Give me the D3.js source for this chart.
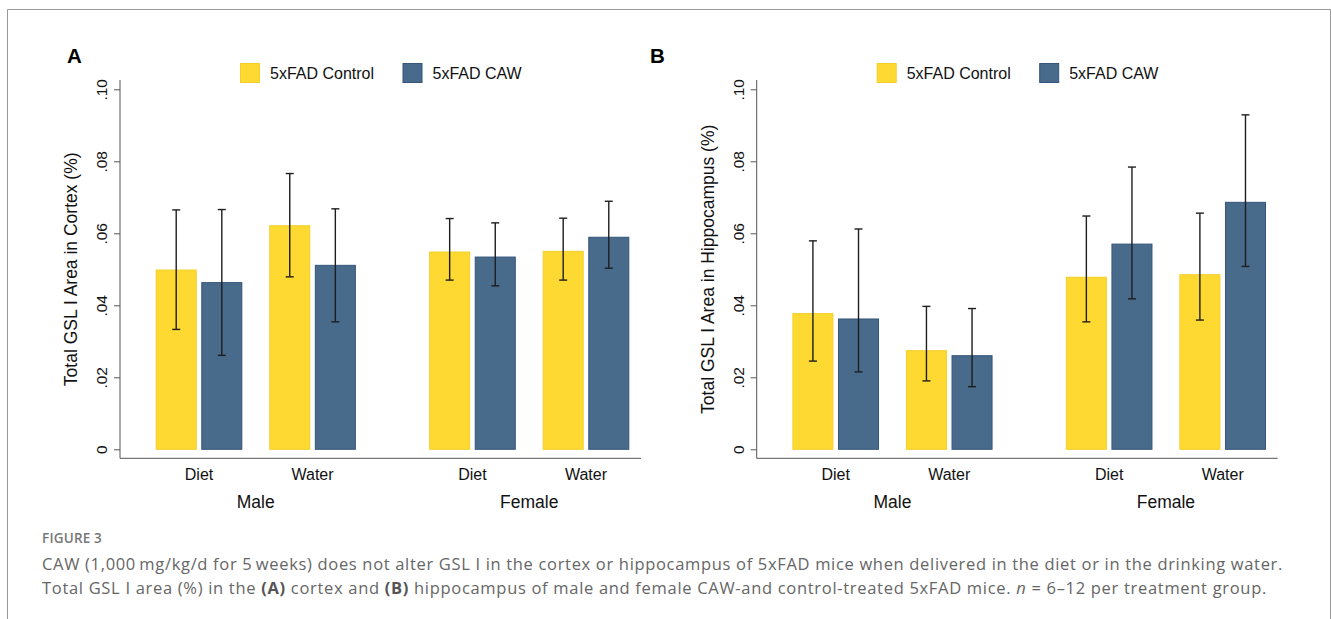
<!DOCTYPE html>
<html>
<head>
<meta charset="utf-8">
<script src="https://cdn.jsdelivr.net/npm/d3@7"></script>
<style>
  body { margin: 0; background: #fff; }
  svg text { font-family: "Liberation Sans", Arial, sans-serif; }
</style>
</head>
<body>
<div id="chart"></div>
<script>
// categories
const sexes = ["Male", "Female"];
const routes = ["Diet", "Water"];
const groups = ["5xFAD Control", "5xFAD CAW"];
const yTicks = [0, 0.02, 0.04, 0.06, 0.08, 0.10];

// values, ordered Male-Diet, Male-Water, Female-Diet, Female-Water, each Control then CAW
const cortexMean = [0.0498, 0.0463, 0.0621, 0.0511, 0.0548, 0.0534, 0.0550, 0.0589];
const cortexLow  = [0.0333, 0.0261, 0.0479, 0.0354, 0.0470, 0.0454, 0.0470, 0.0503];
const cortexHigh = [0.0665, 0.0666, 0.0766, 0.0668, 0.0641, 0.0629, 0.0642, 0.0689];
const hippoMean  = [0.0377, 0.0362, 0.0274, 0.0260, 0.0478, 0.0570, 0.0485, 0.0686];
const hippoLow   = [0.0245, 0.0215, 0.0190, 0.0174, 0.0354, 0.0418, 0.0359, 0.0508];
const hippoHigh  = [0.0579, 0.0612, 0.0397, 0.0391, 0.0648, 0.0784, 0.0656, 0.0929];

const colors = { "5xFAD Control": "#fdd931", "5xFAD CAW": "#486a8b" };
const strokes = { "5xFAD Control": "#f3cf2a", "5xFAD CAW": "#35557a" };

const width = 1331, height = 619;
const svg = d3.select("#chart").append("svg")
  .attr("width", width)
  .attr("height", height);

// frame round the figure
svg.append("path")
  .attr("d", `M7.5,${height} V9.5 H1330.5 V${height}`)
  .attr("fill", "none")
  .attr("stroke", "#9a9a9a")
  .attr("stroke-width", 1);

// build rows for one panel
function makeRows(mean, low, high) {
  const rows = [];
  let i = 0;
  sexes.forEach(s => routes.forEach(r => groups.forEach(g => {
    rows.push({ sex: s, route: r, group: g, mean: mean[i], low: low[i], high: high[i] });
    i++;
  })));
  return rows;
}

const y = d3.scaleLinear().domain([0, 0.1]).range([449.3, 89.3]);

function drawPanel(left, letterX, letter, title, rows) {
  const right = left + 521;
  const g = svg.append("g");

  // scales: sex -> route -> group
  const xSex = d3.scaleBand().domain(sexes).range([left + 35.7, right - 11.7]).paddingInner(0.268);
  const xRoute = d3.scaleBand().domain(routes).range([0, xSex.bandwidth()]).paddingInner(0.237);
  const xGroup = d3.scaleBand().domain(groups).range([0, xRoute.bandwidth()]).paddingInner(0.1);
  const xOf = d => xSex(d.sex) + xRoute(d.route) + xGroup(d.group);

  // panel letter
  g.append("text")
    .attr("x", letterX)
    .attr("y", 63)
    .style("font-size", "20.5px")
    .style("font-weight", "bold")
    .text(letter);

  // legend
  const leg = g.selectAll(".leg").data(groups).enter().append("g")
    .attr("transform", (d, i) => `translate(${left + 120 + i * 162.5},63)`);
  leg.append("rect")
    .attr("x", 0.5).attr("y", 0.5)
    .attr("width", 19).attr("height", 19)
    .attr("fill", d => colors[d])
    .attr("stroke", d => strokes[d]);
  leg.append("text")
    .attr("x", 30).attr("y", 16)
    .style("font-size", "16px")
    .attr("fill", "#111")
    .text(d => d);

  // y axis
  const yAxis = g.append("g")
    .attr("transform", `translate(${left},0)`)
    .call(d3.axisLeft(y).tickValues(yTicks).tickSize(6).tickSizeOuter(0)
      .tickFormat(d => d === 0 ? "0" : d3.format(".2f")(d).replace(/^0/, "")));
  yAxis.select(".domain").remove();
  yAxis.selectAll(".tick line").attr("stroke", "#555");
  yAxis.selectAll(".tick text")
    .attr("x", null).attr("dy", null)
    .attr("transform", "translate(-13,0) rotate(-90)")
    .attr("text-anchor", "middle")
    .attr("fill", "#111")
    .style("font-size", "15.5px");
  g.append("line")
    .attr("x1", left).attr("x2", left)
    .attr("y1", 80).attr("y2", 458.3)
    .attr("stroke", "#555");

  // x axis line
  g.append("line")
    .attr("x1", left).attr("x2", right)
    .attr("y1", 458.3).attr("y2", 458.3)
    .attr("stroke", "#555");

  // y title
  g.append("text")
    .attr("transform", `translate(${left - 43},${(y(0) + y(0.1)) / 2}) rotate(-90)`)
    .attr("text-anchor", "middle")
    .style("font-size", "17.5px")
    .attr("fill", "#111")
    .text(title);

  // bars
  g.selectAll(".bar").data(rows).enter().append("rect")
    .attr("x", d => xOf(d) + 0.5)
    .attr("y", d => y(d.mean))
    .attr("width", xGroup.bandwidth() - 1)
    .attr("height", d => y(0) - y(d.mean))
    .attr("fill", d => colors[d.group])
    .attr("stroke", d => strokes[d.group])
    .attr("stroke-width", 1);

  // error bars
  const eb = g.selectAll(".err").data(rows).enter().append("g")
    .attr("stroke", "#1e1e1e")
    .attr("stroke-width", 1.4);
  eb.append("line")
    .attr("x1", d => xOf(d) + xGroup.bandwidth() / 2)
    .attr("x2", d => xOf(d) + xGroup.bandwidth() / 2)
    .attr("y1", d => y(d.low)).attr("y2", d => y(d.high));
  ["low", "high"].forEach(k => {
    eb.append("line")
      .attr("x1", d => xOf(d) + xGroup.bandwidth() / 2 - 4)
      .attr("x2", d => xOf(d) + xGroup.bandwidth() / 2 + 4)
      .attr("y1", d => y(d[k])).attr("y2", d => y(d[k]));
  });

  // route labels
  sexes.forEach(s => {
    g.selectAll(null).data(routes).enter().append("text")
      .attr("x", r => xSex(s) + xRoute(r) + xRoute.bandwidth() / 2)
      .attr("y", 480)
      .attr("text-anchor", "middle")
      .style("font-size", "16px")
      .attr("fill", "#111")
      .text(r => r);
  });
  // sex labels
  g.selectAll(".sex").data(sexes).enter().append("text")
    .attr("x", s => xSex(s) + xSex.bandwidth() / 2)
    .attr("y", 508)
    .attr("text-anchor", "middle")
    .style("font-size", "17.5px")
    .attr("fill", "#111")
    .text(s => s);
}

drawPanel(120, 67, "A", "Total GSL I Area in Cortex (%)", makeRows(cortexMean, cortexLow, cortexHigh));
drawPanel(756.7, 650, "B", "Total GSL I Area in Hippocampus (%)", makeRows(hippoMean, hippoLow, hippoHigh));

// caption
const capFont = "'Open Sans', sans-serif";
// stretch a caption line to the width it has in the figure
function fitWidth(sel, target) {
  const node = sel.node();
  const n = node.getNumberOfChars();
  const len = node.getComputedTextLength();
  sel.style("letter-spacing", ((target - len) / n) + "px");
}
const fig = svg.append("text")
  .attr("x", 42).attr("y", 543)
  .style("font-family", capFont)
  .style("font-size", "13.5px")
  .style("font-weight", "600")
  .attr("fill", "#777")
  .text("FIGURE 3");
fitWidth(fig, 60);
const line1 = svg.append("text")
  .attr("x", 42).attr("y", 570)
  .style("font-family", capFont)
  .style("font-size", "16.5px")
  .attr("fill", "#666")
  .text("CAW (1,000\u2009mg/kg/d for 5\u2009weeks) does not alter GSL I in the cortex or hippocampus of 5xFAD mice when delivered in the diet or in the drinking water.");
fitWidth(line1, 1241);
const line2 = svg.append("text")
  .attr("x", 42).attr("y", 593.5)
  .style("font-family", capFont)
  .style("font-size", "16.5px")
  .attr("fill", "#666");
line2.append("tspan").text("Total GSL I area (%) in the ");
line2.append("tspan").style("font-weight", "bold").attr("fill", "#555").text("(A)");
line2.append("tspan").text(" cortex and ");
line2.append("tspan").style("font-weight", "bold").attr("fill", "#555").text("(B)");
line2.append("tspan").text(" hippocampus of male and female CAW-and control-treated 5xFAD mice. ");
line2.append("tspan").style("font-style", "italic").text("n");
line2.append("tspan").text(" = 6\u201312 per treatment group.");
fitWidth(line2, 1225);
</script>
</body>
</html>
